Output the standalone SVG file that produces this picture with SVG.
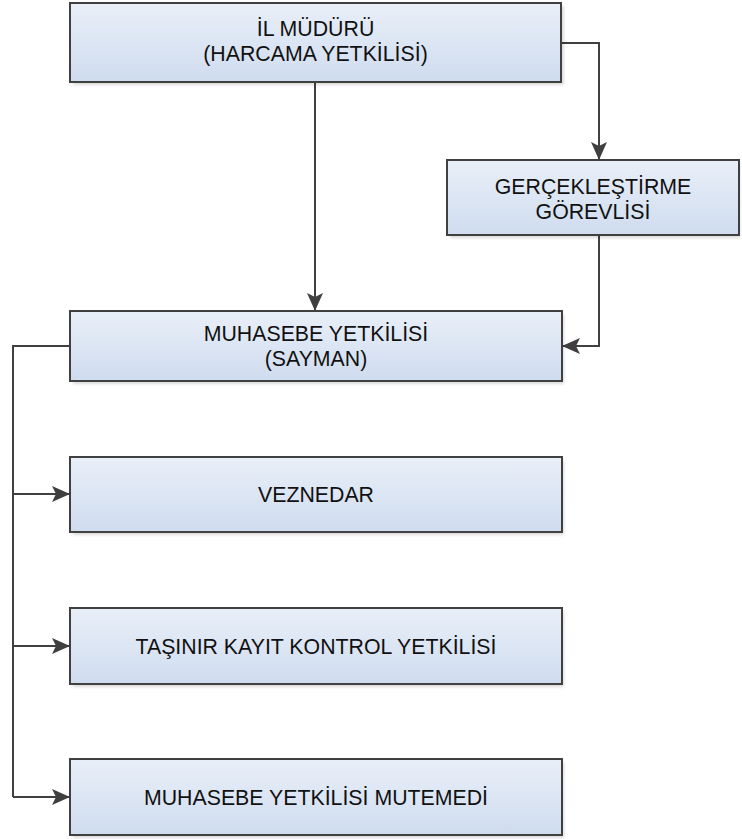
<svg xmlns="http://www.w3.org/2000/svg" width="742" height="839" viewBox="0 0 742 839">
<defs>
<linearGradient id="g" x1="0" y1="0" x2="0" y2="1">
<stop offset="0" stop-color="#e9eff8"/>
<stop offset="1" stop-color="#cfdcef"/>
</linearGradient>
<filter id="sh" x="-5%" y="-10%" width="115%" height="130%">
<feGaussianBlur stdDeviation="1.5"/>
</filter>
<marker id="ah" markerWidth="18" markerHeight="16" refX="18" refY="8" orient="auto" markerUnits="userSpaceOnUse">
<path d="M0,0 L18,8 L0,16 L4,8 Z" fill="#3f3f3f"/>
</marker>
</defs>
<style>
.shadow{fill:#000;opacity:0.14;filter:url(#sh)}
.box{fill:url(#g);stroke:#404040;stroke-width:2}
.t{font-family:"Liberation Sans",Arial,sans-serif;font-size:21.3px;fill:#111;text-anchor:middle}
.c{fill:none;stroke:#404040;stroke-width:2;marker-end:url(#ah)}
.cn{fill:none;stroke:#404040;stroke-width:2}
</style>
<g id="connectors">
<path class="c" d="M315,82 V311"/>
<path class="c" d="M561,43 H599 V160"/>
<path class="c" d="M599,235 V346 H562"/>
<path class="cn" d="M70,346 H13 V797"/>
<path class="c" d="M13,494 H70"/>
<path class="c" d="M13,646 H70"/>
<path class="c" d="M13,797 H70"/>
</g>
<g id="node-il-muduru">
<rect class="shadow" x="73" y="6" width="491" height="79"/>
<rect class="box" x="70" y="3" width="491" height="79"/>
<text class="t" x="315.5" y="36">İL MÜDÜRÜ</text>
<text class="t" x="315.5" y="61">(HARCAMA YETKİLİSİ)</text>
</g>
<g id="node-gerceklestirme">
<rect class="shadow" x="450" y="163" width="290" height="75"/>
<rect class="box" x="447" y="160" width="292" height="75"/>
<text class="t" x="593" y="194">GERÇEKLEŞTİRME</text>
<text class="t" x="593" y="219">GÖREVLİSİ</text>
</g>
<g id="node-muhasebe-yetkilisi">
<rect class="shadow" x="73" y="314" width="491" height="70"/>
<rect class="box" x="70" y="311" width="492" height="70"/>
<text class="t" x="316" y="341">MUHASEBE YETKİLİSİ</text>
<text class="t" x="316" y="366">(SAYMAN)</text>
</g>
<g id="node-veznedar">
<rect class="shadow" x="73" y="460" width="491" height="75"/>
<rect class="box" x="70" y="457" width="492" height="75"/>
<text class="t" x="316" y="502">VEZNEDAR</text>
</g>
<g id="node-tasinir">
<rect class="shadow" x="73" y="611" width="491" height="76"/>
<rect class="box" x="70" y="608" width="492" height="76"/>
<text class="t" x="316" y="653.5">TAŞINIR KAYIT KONTROL YETKİLİSİ</text>
</g>
<g id="node-mutemedi">
<rect class="shadow" x="73" y="762" width="491" height="76"/>
<rect class="box" x="70" y="759" width="492" height="76"/>
<text class="t" x="316" y="805">MUHASEBE YETKİLİSİ MUTEMEDİ</text>
</g>
</svg>
